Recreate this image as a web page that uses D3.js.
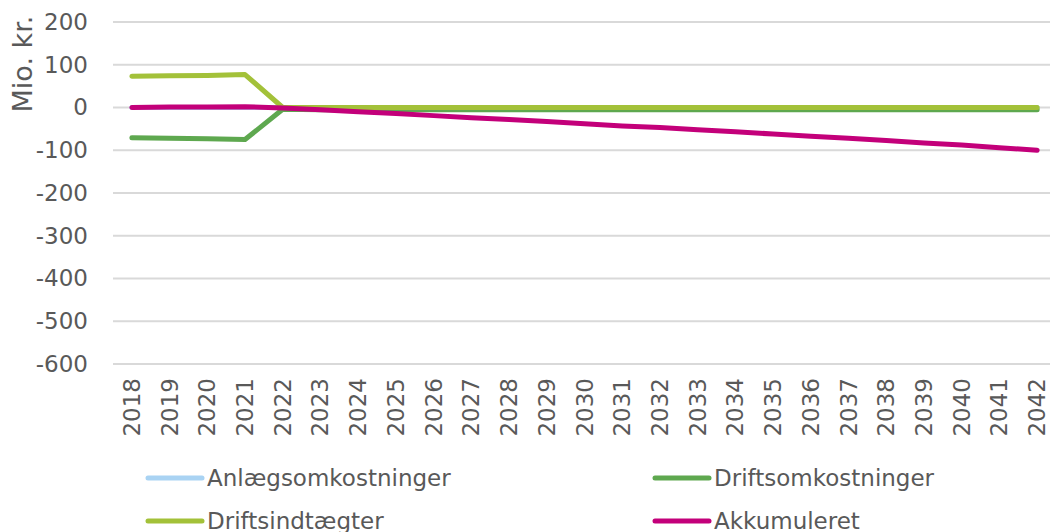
<!DOCTYPE html>
<html>
<head>
<meta charset="utf-8">
<script src="https://cdn.jsdelivr.net/npm/d3@7"></script>
<style>
  body { margin: 0; background: #fff; }
  svg { font-family: "DejaVu Sans", Verdana, sans-serif; }
</style>
</head>
<body>
<div id="chart"></div>
<script>
width = 1050;
height = 532;

margin = { top: 22, right: 0, bottom: 168, left: 113 };

//////// Data ////////
const years = ['2018','2019','2020','2021','2022','2023','2024','2025','2026','2027','2028','2029','2030',
    '2031','2032','2033','2034','2035','2036','2037','2038','2039','2040','2041','2042'];

const anlaeg = [0,0,0,0,0,0,0,0,0,0,0,0,0,0,0,0,0,0,0,0,0,0,0,0,0];
const driftsomk = [-71,-72,-73,-75,-4,-5,-5,-5,-5,-5,-5,-5,-5,-5,-5,-5,-5,-5,-5,-5,-5,-5,-5,-5,-5];
const driftsindt = [73,74,75,77,0,0,0,0,0,0,0,0,0,0,0,0,0,0,0,0,0,0,0,0,0];
const akkumuleret = [0,1,1,2,-1,-5,-10,-14,-19,-24,-28,-33,-38,-43,-47,-52,-57,-62,-67,-72,-77,-83,-88,-94,-100];

const yTicks = [200,100,0,-100,-200,-300,-400,-500,-600];

const series = [
    {name: 'Anlægsomkostninger', values: anlaeg, color: '#a9d3f3'},
    {name: 'Driftsomkostninger', values: driftsomk, color: '#5ea84f'},
    {name: 'Driftsindtægter', values: driftsindt, color: '#a3c139'},
    {name: 'Akkumuleret', values: akkumuleret, color: '#c3007a'}
];

//////// Scales ////////
const xScale = d3.scaleBand()
    .domain(years)
    .range([margin.left, 1056]);

const yScale = d3.scaleLinear()
    .domain([-600, 200])
    .range([364, margin.top]);

const svg = d3.select('#chart')
    .append('svg')
    .attr('width', width)
    .attr('height', height);

// gridlines
svg.append('g')
    .selectAll('line')
    .data(yTicks)
    .join('line')
    .attr('x1', margin.left)
    .attr('x2', width)
    .attr('y1', d => yScale(d))
    .attr('y2', d => yScale(d))
    .attr('stroke', '#d9d9d9')
    .attr('stroke-width', 2);

// y axis labels (hyphen minus like the original)
const yAxis = d3.axisLeft(yScale)
    .tickValues(yTicks)
    .tickFormat(d => String(d))
    .tickSize(0)
    .tickPadding(0);
svg.append('g')
    .attr('transform', 'translate(88,0)')
    .call(yAxis)
    .call(g => g.select('.domain').remove())
    .selectAll('text')
    .attr('fill', '#595959')
    .style('font-size', '23px')
    .style('font-family', '"DejaVu Sans", Verdana, sans-serif');

// y axis title
svg.append('text')
    .attr('transform', 'translate(32,64) rotate(-90)')
    .attr('text-anchor', 'middle')
    .attr('fill', '#595959')
    .style('font-size', '27px')
    .text('Mio. kr.');

// x axis labels
const xAxis = d3.axisBottom(xScale).tickSize(0).tickPadding(0);
svg.append('g')
    .attr('transform', 'translate(0,378)')
    .call(xAxis)
    .call(g => g.select('.domain').remove())
    .selectAll('text')
    .attr('fill', '#595959')
    .style('font-size', '23px')
    .style('font-family', '"DejaVu Sans", Verdana, sans-serif')
    .style('text-anchor', 'end')
    .attr('dy', null)
    .attr('y', 0)
    .attr('x', 0)
    .attr('transform', 'rotate(-90) translate(0,8)');

//////// Lines ////////
const line = d3.line()
    .x((d, i) => xScale(years[i]) + xScale.bandwidth() / 2)
    .y(d => yScale(d));

svg.append('g')
    .selectAll('path')
    .data(series)
    .join('path')
    .attr('d', d => line(d.values))
    .attr('fill', 'none')
    .attr('stroke', d => d.color)
    .attr('stroke-width', 5)
    .attr('stroke-linecap', 'round')
    .attr('stroke-linejoin', 'round');

//////// Legend ////////
const legend = svg.append('g')
    .selectAll('g')
    .data(series)
    .join('g')
    .attr('transform', (d, i) => `translate(${148 + (i % 2) * 507},${478 + Math.floor(i / 2) * 43})`);

legend.append('line')
    .attr('x1', 0)
    .attr('x2', 54)
    .attr('stroke', d => d.color)
    .attr('stroke-width', 5)
    .attr('stroke-linecap', 'round');

legend.append('text')
    .attr('x', 59)
    .attr('dy', '0.35em')
    .attr('fill', '#595959')
    .style('font-size', '23px')
    .text(d => d.name);
</script>
</body>
</html>
